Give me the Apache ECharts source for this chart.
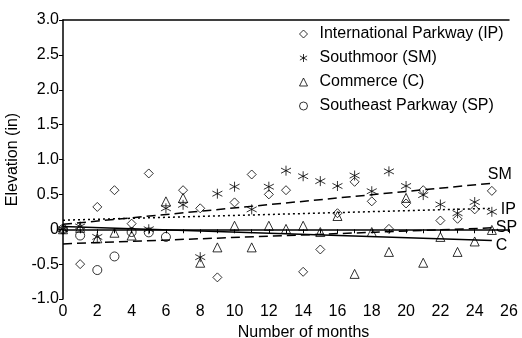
<!DOCTYPE html>
<html><head><meta charset="utf-8">
<script src="https://cdn.jsdelivr.net/npm/echarts@6/dist/echarts.min.js"></script>
<style>html,body{margin:0;padding:0;background:#fff}#c{width:522px;height:338px}</style>
</head><body><div id="c"></div>
<script>
// Data
const ipData = [[0,0],[1,-0.50],[2,0.32],[3,0.56],[4,0.08],[5,0.80],[7,0.56],[8,0.30],[9,-0.69],[10,0.385],[11,0.785],[12,0.50],[13,0.56],[14,-0.61],[15,-0.29],[16,0.23],[17,0.68],[18,0.40],[19,0.005],[20,0.37],[21,0.56],[22,0.125],[23,0.15],[24,0.285],[25,0.55]];
const smData = [[0,0],[1,0.04],[2,-0.11],[5,0.0],[6,0.30],[7,0.35],[8,-0.40],[9,0.51],[10,0.61],[11,0.285],[12,0.61],[13,0.84],[14,0.76],[15,0.69],[16,0.62],[17,0.77],[18,0.545],[19,0.83],[20,0.62],[21,0.49],[22,0.355],[23,0.23],[24,0.39],[25,0.25]];
const cData = [[0,0],[1,0.02],[2,-0.13],[3,-0.05],[4,-0.09],[6,0.40],[7,0.45],[8,-0.48],[9,-0.26],[10,0.05],[11,-0.26],[12,0.05],[13,0.005],[14,0.05],[15,-0.04],[16,0.19],[17,-0.64],[18,-0.04],[19,-0.325],[20,0.45],[21,-0.48],[22,-0.11],[23,-0.325],[24,-0.175],[25,-0.01]];
const spData = [[0,0],[1,-0.09],[2,-0.585],[3,-0.39],[4,-0.04],[5,-0.045],[6,-0.11]];
// Trend lines (endpoints)
const smTrend = [[0,0.07],[25,0.66]];
const ipTrend = [[0,0.13],[25,0.30]];
const spTrend = [[0,-0.21],[25,0.02]];
const cTrend = [[0,0.04],[25,-0.16]];
const seriesNames = ['International Parkway (IP)','Southmoor (SM)','Commerce (C)','Southeast Parkway (SP)'];

const FONT = 'Liberation Sans, Arial, sans-serif';
const asterisk = 'path://M5,0L5,10M0.5,2.4L9.5,7.6M0.5,7.6L9.5,2.4';
const markerStyle = {color:'none', borderColor:'#000', borderWidth:1};

function scatter(name, data, symbol, size){
  return {name, type:'scatter', data, symbol, symbolSize:size||9, itemStyle:markerStyle, z:3, animation:false};
}
function trend(name, data, type, label, off){
  return {name, type:'line', data, showSymbol:false, symbol:'none', silent:true, animation:false, z:2,
    lineStyle:{color:'#000', width:1.5, type:type},
    endLabel:{show:true, formatter:label, color:'#000', fontFamily:FONT, fontSize:16, offset:off, distance:5}};
}

const chart = echarts.init(document.getElementById('c'), null, {renderer:'canvas'});
chart.setOption({
  animation:false,
  backgroundColor:'#fff',
  textStyle:{fontFamily:FONT, color:'#000'},
  grid:{left:63, right:13, top:20, bottom:39, outerBoundsMode:'none', containLabel:false},
  legend:{data:seriesNames, orient:'vertical', left:292, top:21, itemWidth:8, itemHeight:8, itemGap:8,
    itemStyle:{color:'none', borderColor:'#000', borderWidth:1},
    textStyle:{fontFamily:FONT, fontSize:16, color:'#000', lineHeight:16, padding:[0,0,0,7]}},
  xAxis:[{type:'value', min:0, max:26, interval:1,
    name:'Number of months', nameLocation:'middle', nameGap:22,
    nameTextStyle:{fontFamily:FONT, fontSize:16, color:'#000', verticalAlign:'top', padding:[0,0,0,35]},
    axisLine:{show:true, lineStyle:{color:'#000', width:1.5}},
    axisTick:{show:true, length:4, lineStyle:{color:'#000'}},
    axisLabel:{margin:5, fontFamily:FONT, fontSize:16, color:'#000', formatter:v=> (v%2===0? String(v):'')},
    splitLine:{show:false}},
   {type:'value', position:'top', min:0, max:26,
    axisLine:{show:true, onZero:false, lineStyle:{color:'#000', width:1.5}},
    axisTick:{show:false}, axisLabel:{show:false}, splitLine:{show:false}}],
  yAxis:{type:'value', min:-1, max:3, interval:0.5,
    name:'Elevation (in)', nameLocation:'middle', nameGap:34,
    nameTextStyle:{fontFamily:FONT, fontSize:16, color:'#000'},
    axisLine:{show:true, onZero:false, lineStyle:{color:'#000', width:1.5}},
    axisTick:{show:true, length:4, lineStyle:{color:'#000'}},
    axisLabel:{margin:4, fontFamily:FONT, fontSize:16, color:'#000', formatter:v=> (v===0?'0':v.toFixed(1))},
    splitLine:{show:false}},
  series:[
    trend('SMtrend', smTrend, [9,5], 'SM', [-9,-9]),
    trend('IPtrend', ipTrend, [2,3], 'IP', [4,1]),
    trend('SPtrend', spTrend, [9,5], 'SP', [-1,0]),
    trend('Ctrend', cTrend, 'solid', 'C', [-1,5]),
    scatter(seriesNames[0], ipData, 'diamond'),
    scatter(seriesNames[1], smData, asterisk, 10),
    scatter(seriesNames[2], cData, 'triangle'),
    scatter(seriesNames[3], spData, 'circle')
  ]
});
</script></body></html>
